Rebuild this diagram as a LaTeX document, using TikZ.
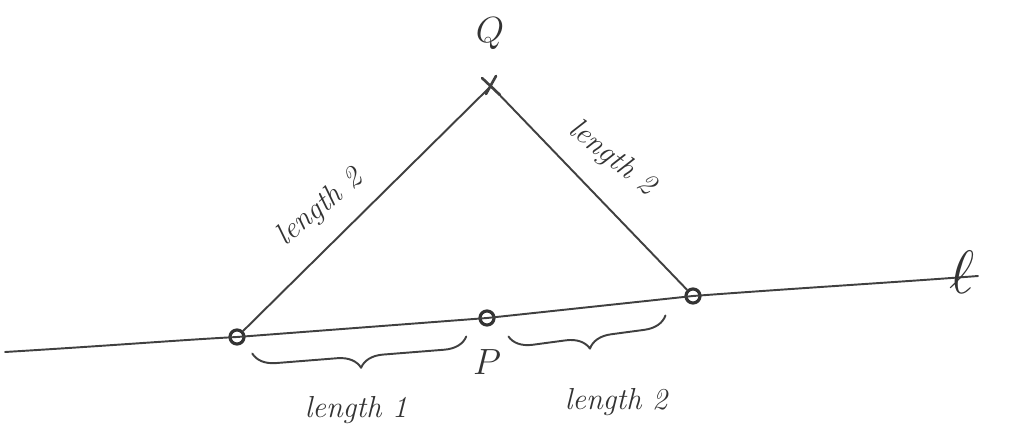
\documentclass[tikz,border=0pt]{standalone}
\usetikzlibrary{decorations.pathreplacing}
\begin{document}
\begin{tikzpicture}[x=0.2mm,y=-0.2mm,
  ink/.style={line width=1.1pt,draw=black!75,line cap=round,line join=round},
  pt/.style={circle,draw=black!80,line width=1.8pt,inner sep=0pt,minimum size=8pt},
  lbl/.style={text=black!80,font=\LARGE\itshape},
  brc/.style={ink,decorate,decoration={brace,mirror,amplitude=13pt,raise=2pt}}]
\useasboundingbox (0,0) rectangle (1010,441);
% points
\coordinate (L0) at (5,352);
\coordinate (L1) at (978,276);
\node[pt] (A) at (237,337) {};
\node[pt] (P) at (487,318) {};
\node[pt] (B) at (693,296) {};
\coordinate (Q) at (491,86);
% line l
\draw[ink] (L0) .. controls (120,345) and (180,340) .. (A.center)
  -- (P.center) -- (B.center) .. controls (800,288) and (900,282) .. (L1);
\node[lbl,font=\Huge,scale=1.4] (ell) at (962,272) {$\ell$};
% triangle sides
\draw[ink] (A) -- (Q);
\draw[ink] (Q) -- (B);
% cross at Q
\draw[ink,line width=1.5pt] ([shift={(-9,-8)}]Q) -- ([shift={(9,9)}]Q);
\draw[ink,line width=1.5pt] ([shift={(-5,8)}]Q) -- ([shift={(5,-10)}]Q);
\node[lbl,font=\huge] (Qlbl) at (490,34) {$Q$};
% labels on sides
\node[lbl,rotate=40] (s1) at (320,208) {length 2};
\node[lbl,rotate=-38] (s2) at (612,158) {length 2};
% braces
\coordinate (b1s) at (252,350);
\coordinate (b1e) at (466,333);
\coordinate (b2s) at (508,333);
\coordinate (b2e) at (665,312);
\draw[brc] (b1s) -- (b1e);
\draw[brc] (b2s) -- (b2e);
\node[lbl,font=\huge] (Plbl) at (487,362) {$P$};
\node[lbl] (t1) at (356,410) {length 1};
\node[lbl] (t2) at (616,402) {length 2};
\end{tikzpicture}
\end{document}
